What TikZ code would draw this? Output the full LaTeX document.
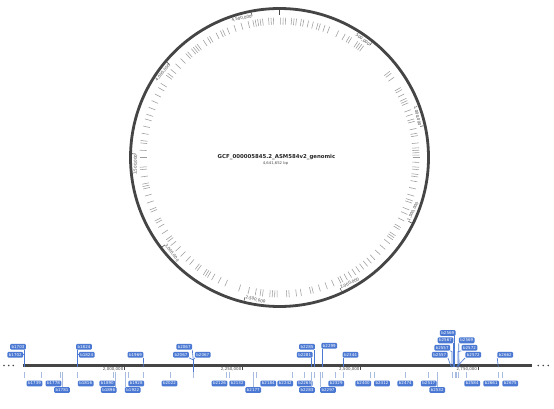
\documentclass[tikz,border=0pt]{standalone}
\usepackage{fontspec}
\setmainfont{DejaVu Sans}
\usetikzlibrary{positioning}
\definecolor{ringgray}{HTML}{454545}
\definecolor{cgene}{HTML}{9C9C9C}
\definecolor{lblue}{HTML}{4A78D2}
\definecolor{tickblue}{HTML}{A8BCE2}
\tikzset{
  ring/.style={draw=ringgray, line width=2.8pt}, % the genome circle and the track
  ctick/.style={draw=cgene, line width=0.55pt}, % gene marks on the circle
  poslabel/.style={font=\fontsize{4}{4}\selectfont, text=ringgray, inner sep=0.4pt}, % position numbers
  glabel/.style={fill=lblue, text=white, rounded corners=1.2pt, font=\fontsize{4}{4}\selectfont,
    inner xsep=1.5pt, inner ysep=1.5pt, text height=2.9pt, text depth=0pt}, % gene name boxes
  gline/.style={draw=lblue, line width=0.65pt}, % leader from a box to its gene
  gtick/.style={draw=tickblue, line width=0.65pt}, % gene marks below the track
}

\begin{document}
\begin{tikzpicture}[x=1pt, y=-1pt]
    \fill[white] (0,0) rectangle (554,409);
    \useasboundingbox (0,0) rectangle (554,409);

    % circular map
    \coordinate (c) at (279.5,157.5);
    \draw[ring] (c) circle (149pt);
    \draw[draw=ringgray, line width=1pt] (279.5,8.5) -- (279.5,15.5);
    \foreach \a in {-4.5,-3.5,-2.5,0.5,1.5,2.5,5,6,7,9,10,12,14,16,17,19,21,
        25,28,30,31,34,35,36,37,52,53,55,60,61,63,65,66,67,
        70,72,74,75,78,80,81,84,86,87,88,89,90,92,94,95,97,98,100,103,106,108,109,112,114,
        117,120,121,124,125,126,128,131,134,137,139,141,143,145,147,149,151,153,154,
        157,160,163,166,167,171,173,176,177,181,182,183,184,187,188,190,193,197,
        203,206,209,211,212,213,216,217,220,222,225,228,231,233,234,237,240,242,243,
        247,248,251,254,257,258,259,262,265,266,270,273,276,277,280,283,286,288,291,294,297,300,302,
        306,307,309,312,315,318,319,321,322,323,324,327,329,330,333,335,336,338,341,344,347,349,350,351,352,353}
      \draw[ctick] ({279.5+133*sin(\a)},{157.5-133*cos(\a)}) -- ({279.5+140*sin(\a)},{157.5-140*cos(\a)});
    % position numbers, upper half
    \foreach \k/\t in {1/{500,000},2/{1,000,000},7/{3,500,000},8/{4,000,000},9/{4,500,000}} {
      \pgfmathsetmacro\a{\k*38.7793}
      \draw[ctick, draw=ringgray] ({279.5+147.5*sin(\a)},{157.5-147.5*cos(\a)}) -- ({279.5+144*sin(\a)},{157.5-144*cos(\a)});
      \node[poslabel, rotate=-\a, anchor=north east] (p\k) at ({279.5+146*sin(\a)},{157.5-146*cos(\a)}) {\t};
    }
    % position numbers, lower half
    \foreach \k/\t in {3/{1,500,000},4/{2,000,000},5/{2,500,000},6/{3,000,000}} {
      \pgfmathsetmacro\a{\k*38.7793}
      \draw[ctick, draw=ringgray] ({279.5+147.5*sin(\a)},{157.5-147.5*cos(\a)}) -- ({279.5+144*sin(\a)},{157.5-144*cos(\a)});
      \node[poslabel, rotate=180-\a, anchor=south west] (p\k) at ({279.5+146*sin(\a)},{157.5-146*cos(\a)}) {\t};
    }
    \node[font=\bfseries\fontsize{5.4}{6}\selectfont, text=black!85] (gname) at (276.5,157.3) {GCF\_000005845.2\_ASM584v2\_genomic};
    \node[font=\fontsize{3.8}{4}\selectfont, text=black!70] (glen) at (275.5,163) {4,641,652 bp};

    % linear track
    \coordinate (tl) at (22.7,365.5);
    \coordinate (tr) at (531.7,365.5);
    \draw[ring] (tl) -- (tr);
    \foreach \x in {4,8.7,13.3,538.3,543.3,548.3}
      \fill[ringgray] (\x,365.5) circle (0.9pt);
    \foreach \x/\t [count=\i] in {124.3/{2,000,000},242.3/{2,250,000},360.5/{2,500,000},478/{2,750,000}} {
      \draw[draw=ringgray, line width=0.4pt] (\x,366.5) -- (\x,369.5);
      \node[poslabel, anchor=north east] (ax\i) at (\x-0.4,366.8) {\t};
    }

    % genes below the track
    \foreach \x in {24.3,77.3,143.3,193.3,311.7,314,322.7,343,452.3,455,456.5,458}
      \draw[gtick] (\x,372) -- (\x,378);
    \foreach \n/\lx/\tx/\r in {b1739/34.5/41/1, b1778/53.5/60/1, b1781/62/62/2, b1816/85.7/77.3/1,
        b1890/107.3/113.7/1, b1896/108.7/115.7/2, b1922/132.8/125.7/2, b1928/136.2/128.3/1,
        b2022/169.5/170/1, b2126/219.5/226/1, b2132/237.2/229/1, b2177/253.3/253.3/2,
        b2184/268.3/256.7/1, b2242/285.3/292.3/1, b2265/304.7/304/1, b2283/307/311.7/2,
        b2297/328/320.7/2, b2329/336.2/335.7/1, b2400/363.3/370/1, b2412/382/374.7/1,
        b2474/405.3/405.5/1, b2517/428.8/428.5/1, b2532/437.2/437/2, b2584/472.2/466/1,
        b2661/491.2/498.3/1, b2675/510.3/502.7/1} {
      \pgfmathsetmacro\ly{\r==1 ? 383.5 : 390}
      \coordinate (t\n) at (\tx,378);
      \draw[gtick] (\tx,372) -- (t\n);
      \ifnum\r=2 \draw[gtick] (t\n) -- (\tx,387); \fi
      \node[glabel] (\n) at (\lx,\ly) {\n};
    }

    % genes above the track
    \node[glabel] (b1703) at (18,346.7) {b1703};
    \node[glabel] (b1702) at (15.3,354.7) {b1702};
    \node[glabel] (b1824a) at (84,346.7) {b1824};
    \node[glabel] (b1824b) at (86.7,354.7) {b1824};
    \node[glabel] (b1969) at (135.5,354.7) {b1969};
    \node[glabel] (b2067a) at (184.2,346.7) {b2067};
    \node[glabel] (b2067b) at (181,354.7) {b2067};
    \node[glabel] (b2067c) at (202.8,354.7) {b2067};
    \node[glabel] (b2285) at (307,346.7) {b2285};
    \node[glabel] (b2281) at (304.7,354.7) {b2281};
    \node[glabel] (b2299) at (329.3,345.7) {b2299};
    \node[glabel] (b2344) at (350.5,354.7) {b2344};
    \node[glabel] (b2569a) at (447.8,333) {b2569};
    \node[glabel] (b2567) at (445.5,340.3) {b2567};
    \node[glabel] (b2557a) at (442.2,347.7) {b2557};
    \node[glabel] (b2557b) at (439.8,354.7) {b2557};
    \node[glabel] (b2569b) at (466.8,340.3) {b2569};
    \node[glabel] (b2572a) at (469.5,347.7) {b2572};
    \node[glabel] (b2572b) at (473.3,354.7) {b2572};
    \node[glabel] (b2662) at (505.3,354.7) {b2662};

    \coordinate (g1703) at (24.3,367);
    \coordinate (g1824) at (77.3,367);
    \coordinate (g1969) at (143.3,367);
    \coordinate (j2067) at (193.3,360);
    \coordinate (g2067) at (193.3,372);
    \coordinate (g2285) at (314,367);
    \coordinate (g2281) at (311.7,367);
    \coordinate (g2299) at (322.5,367);
    \coordinate (g2344) at (343.3,367);
    \coordinate (g2569a) at (454.5,367);
    \coordinate (g2567) at (453,367);
    \coordinate (g2557a) at (452,367);
    \coordinate (g2557b) at (451.3,367);
    \coordinate (g2569b) at (459,367);
    \coordinate (g2572a) at (458,367);
    \coordinate (g2572b) at (456.5,367);
    \coordinate (g2662) at (498.3,367);

    \draw[gline] (b1703.south -| g1703) -- (g1703);
    \draw[gline] (b1702.east) -- (b1702.east -| g1703);
    \draw[gline] (b1824a.south -| g1824) -- (g1824);
    \draw[gline] (b1824b.west) -- (b1824b.west -| g1824);
    \draw[gline] (b1969.south east) -- (g1969);
    \draw[gline] (b2067a.south east) -- (j2067);
    \draw[gline] (b2067b.south east) -- (j2067);
    \draw[gline] (b2067c.south west) -- (j2067);
    \draw[gline, line width=1.6pt] (j2067) -- (g2067);
    \draw[gline] (b2285.south -| g2285) -- (g2285);
    \draw[gline] (b2281.south -| g2281) -- (g2281);
    \draw[gline] (b2299.south -| g2299) -- (g2299);
    \draw[gline] (b2344.south -| g2344) -- (g2344);
    \draw[gline] (b2569a.south -| g2569a) -- (g2569a);
    \draw[gline] (b2567.south -| g2567) -- (g2567);
    \draw[gline] (b2557a.south east) -- (g2557a |- b2557b.north) -- (g2557a);
    \draw[gline] (b2557b.south east) -- (g2557b);
    \draw[gline] (b2569b.south west) -- (g2569b);
    \draw[gline] (b2572a.south west) -- (g2572a |- b2572b.north) -- (g2572a);
    \draw[gline] (b2572b.south west) -- (g2572b);
    \draw[gline] (b2662.south west) -- (g2662);
\end{tikzpicture}
\end{document}
